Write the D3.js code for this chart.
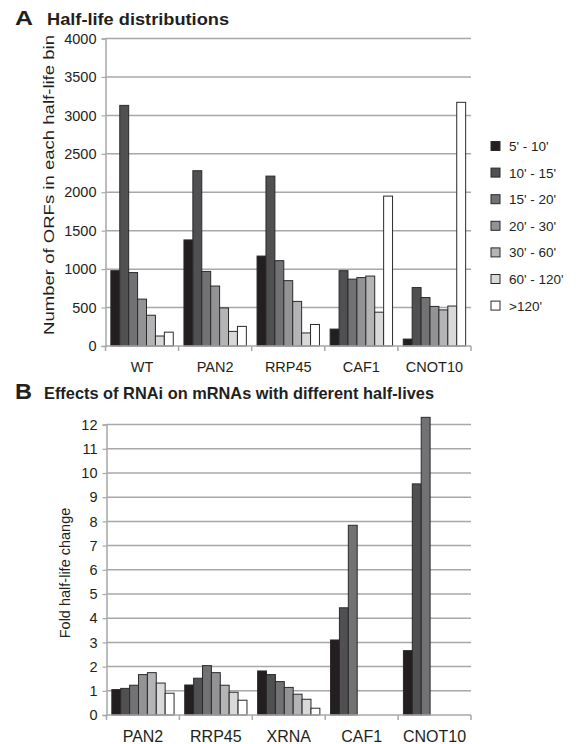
<!DOCTYPE html>
<html><head><meta charset="utf-8">
<script src="https://cdn.jsdelivr.net/npm/d3@7"></script>
<style>
body{margin:0;background:#fff;}
svg{font-family:"Liberation Sans",Arial,sans-serif;}
</style></head>
<body>
<svg id="c" width="580" height="744"></svg>
<script>
// ---- data ----
const bins = ["5' - 10'", "10' - 15'", "15' - 20'", "20' - 30'", "30' - 60'", "60' - 120'", ">120'"];
const binColors = ["#231f20", "#505052", "#727275", "#939396", "#b4b4b6", "#d9d9da", "#ffffff"];

const strainsA = ["WT", "PAN2", "RRP45", "CAF1", "CNOT10"];
const wtA     = [980, 3130, 955, 610, 400, 130, 180];
const pan2A   = [1380, 2280, 970, 780, 495, 190, 255];
const rrp45A  = [1170, 2210, 1110, 850, 580, 170, 280];
const caf1A   = [220, 980, 870, 890, 910, 440, 1950];
const cnot10A = [90, 760, 630, 515, 470, 520, 3170];
const valuesA = [wtA, pan2A, rrp45A, caf1A, cnot10A];
const ticksA = [0, 500, 1000, 1500, 2000, 2500, 3000, 3500, 4000];

const strainsB = ["PAN2", "RRP45", "XRNA", "CAF1", "CNOT10"];
const pan2B   = [1.05, 1.10, 1.23, 1.67, 1.75, 1.32, 0.90];
const rrp45B  = [1.24, 1.52, 2.04, 1.75, 1.23, 0.94, 0.61];
const xrnaB   = [1.82, 1.67, 1.38, 1.14, 0.86, 0.65, 0.28];
const caf1B   = [3.10, 4.43, 7.84, null, null, null, null];
const cnot10B = [2.66, 9.55, 12.3, null, null, null, null];
const valuesB = [pan2B, rrp45B, xrnaB, caf1B, cnot10B];
const ticksB = [0,1,2,3,4,5,6,7,8,9,10,11,12];

const svg = d3.select("#c");
const textCol = "#231f20";
const gridCol = "#a8a8a8";

function panel(cfg){
  const g = svg.append("g");
  const x = d3.scaleBand().domain(cfg.cats).range([cfg.x0, cfg.x1]);
  const y = d3.scaleLinear().domain(cfg.domain).range([cfg.y0, cfg.y1]);
  const inner = d3.scaleBand().domain(d3.range(bins.length)).range([0, x.bandwidth()]).paddingOuter(0.6).paddingInner(0);
  // gridlines
  g.append("g").selectAll("line").data(cfg.ticks.filter(t=>t>0)).join("line")
    .attr("x1", cfg.x0).attr("x2", cfg.x1)
    .attr("y1", d=>y(d)).attr("y2", d=>y(d))
    .attr("stroke", gridCol).attr("stroke-width", 1.5);
  // y axis
  const ya = g.append("g").attr("transform", `translate(${cfg.x0},0)`)
    .call(d3.axisLeft(y).tickValues(cfg.ticks).tickFormat(d3.format("d")).tickSize(4).tickPadding(5));
  ya.select(".domain").attr("stroke", gridCol).attr("stroke-width", 1.5);
  ya.selectAll(".tick line").attr("stroke", gridCol).attr("stroke-width", 1.2);
  ya.selectAll("text").attr("font-size", cfg.tickFont).attr("fill", textCol)
    .attr("font-family", "Liberation Sans, Arial, sans-serif");
  // bars
  cfg.cats.forEach((c, i) => {
    const vals = cfg.values[i];
    g.append("g").selectAll("rect").data(vals.map((v,j)=>({v,j})).filter(d=>d.v!=null)).join("rect")
      .attr("x", d => x(c) + inner(d.j))
      .attr("width", inner.bandwidth())
      .attr("y", d => y(d.v))
      .attr("height", d => y(0) - y(d.v))
      .attr("fill", d => binColors[d.j])
      .attr("stroke", "#2a2a2a").attr("stroke-width", 1);
  });
  // x axis
  const xa = g.append("g").attr("transform", `translate(0,${cfg.y0})`);
  xa.append("line").attr("x1", cfg.x0).attr("x2", cfg.x1).attr("stroke", gridCol).attr("stroke-width", 1.5);
  xa.selectAll("line.t").data(cfg.cats.concat(["end"])).join("line").attr("class","t")
    .attr("x1", (d,i)=> i<cfg.cats.length ? x(d) : cfg.x1)
    .attr("x2", (d,i)=> i<cfg.cats.length ? x(d) : cfg.x1)
    .attr("y1", 0).attr("y2", 5).attr("stroke", gridCol).attr("stroke-width", 1.5);
  xa.selectAll("text").data(cfg.cats).join("text")
    .attr("x", d => x(d) + x.bandwidth()/2).attr("y", cfg.xLabelDy)
    .attr("text-anchor", "middle").attr("font-size", cfg.xFont).attr("fill", textCol)
    .text(d=>d);
  // y title
  const yt = g.append("text").attr("transform", `translate(${cfg.yTitleX},${cfg.yTitleY}) rotate(-90)`)
    .attr("text-anchor", "middle").attr("font-size", cfg.yTitleFont).attr("fill", textCol)
    .text(cfg.yTitle);
  if (cfg.yTitleLen) yt.attr("textLength", cfg.yTitleLen).attr("lengthAdjust", "spacingAndGlyphs");
  return g;
}

// Panel A
svg.append("text").attr("x", 15).attr("y", 25).attr("font-size", 21).attr("font-weight", "bold").attr("fill", textCol)
  .attr("textLength", 18).attr("lengthAdjust", "spacingAndGlyphs").text("A");
svg.append("text").attr("x", 47).attr("y", 25).attr("font-size", 16.5).attr("font-weight", "bold").attr("fill", textCol)
  .attr("textLength", 182).attr("lengthAdjust", "spacingAndGlyphs").text("Half-life distributions");
panel({cats: strainsA, values: valuesA, domain: [0, 4000], ticks: ticksA,
  x0: 105.5, x1: 471, y0: 346, y1: 38.5, tickFont: 14.5, xFont: 14.5, xLabelDy: 25.5,
  yTitle: "Number of ORFs in each half-life bin", yTitleX: 54, yTitleY: 185, yTitleFont: 15.5, yTitleLen: 300});

// Legend
const leg = svg.append("g");
bins.forEach((b, i) => {
  const yy = 146 + i * 26.6;
  leg.append("rect").attr("x", 491).attr("y", yy - 4.5).attr("width", 9).attr("height", 9)
    .attr("fill", binColors[i]).attr("stroke", "#2a2a2a").attr("stroke-width", 1);
  leg.append("text").attr("x", 509).attr("y", yy + 5).attr("font-size", 13.5).attr("fill", textCol).text(b);
});

// Panel B
svg.append("text").attr("x", 15).attr("y", 399).attr("font-size", 22).attr("font-weight", "bold").attr("fill", textCol)
  .attr("textLength", 17).attr("lengthAdjust", "spacingAndGlyphs").text("B");
svg.append("text").attr("x", 44).attr("y", 399).attr("font-size", 16.5).attr("font-weight", "bold").attr("fill", textCol)
  .attr("textLength", 390).attr("lengthAdjust", "spacingAndGlyphs")
  .text("Effects of RNAi on mRNAs with different half-lives");
panel({cats: strainsB, values: valuesB, domain: [0, 12], ticks: ticksB,
  x0: 106.5, x1: 471, y0: 715, y1: 424.6, tickFont: 14.5, xFont: 16, xLabelDy: 26.5,
  yTitle: "Fold half-life change", yTitleX: 70, yTitleY: 573, yTitleFont: 14.5, yTitleLen: 0});
</script>
</body></html>
